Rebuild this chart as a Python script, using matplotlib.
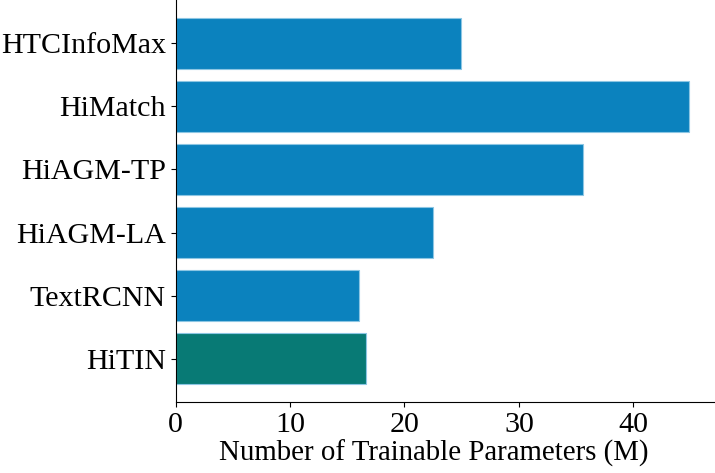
import matplotlib
matplotlib.use("Agg")
import matplotlib.pyplot as plt

models = ["HTCInfoMax", "HiMatch", "HiAGM-TP", "HiAGM-LA", "TextRCNN", "HiTIN"]
params = [24.9, 44.9, 35.6, 22.5, 16.0, 16.65]
bar_colors = ["#0b82be", "#0b82be", "#0b82be", "#0b82be", "#0b82be", "#087a75"]

plt.rcParams['font.family'] = ['Liberation Serif', 'DejaVu Serif']

fig = plt.figure(figsize=(7.15, 4.73), dpi=100)
ax = fig.add_axes([175.7 / 715, 1 - 402 / 473, 1 - 175.7 / 715, 402 / 473])

ypos = list(range(len(models)))
ax.barh(ypos, params, height=0.8, color=bar_colors, edgecolor="#8cc6e3", linewidth=0.8)
ax.set_yticks(ypos)
ax.set_yticklabels(models)
ax.invert_yaxis()
ax.set_ylim(len(models) - 1 + 0.69, -0.69)
ax.set_xlim(0, max(params) * 1.05)
ax.set_xticks([0, 10, 20, 30, 40])
ax.set_xlabel("Number of Trainable Parameters (M)", fontsize=20.8)
ax.xaxis.set_label_coords(0.478, -0.094)
ax.xaxis.label.set_verticalalignment('top')
ax.tick_params(labelsize=21.6)
ax.spines['top'].set_visible(False)
ax.spines['right'].set_visible(False)

fig.savefig("out.png", dpi=100)
